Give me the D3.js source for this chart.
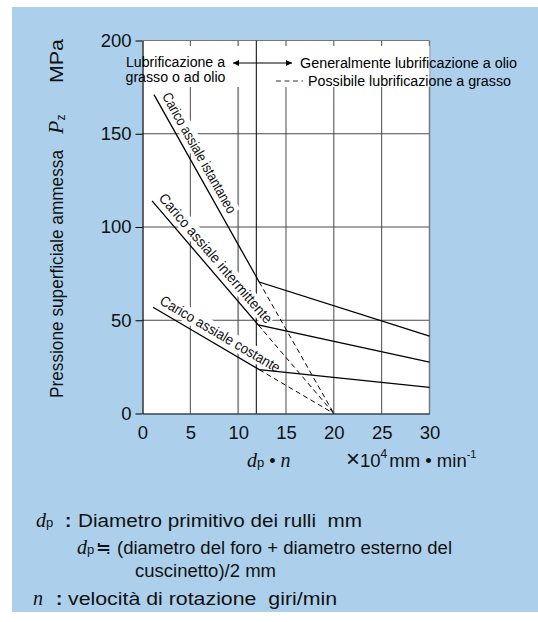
<!DOCTYPE html>
<html><head><meta charset="utf-8">
<script src="https://cdn.jsdelivr.net/npm/d3@7"></script>
<style>body{margin:0;background:#fff}svg{display:block}text{white-space:pre}</style>
</head><body><svg id="c" width="538" height="622"></svg>
<script>
// ---- data ----
const xTicks = [0, 5, 10, 15, 20, 25, 30];
const yTicks = [0, 50, 100, 150, 200];
const gridXValues = [5, 10, 15, 20, 25];
const gridYValues = [50, 100, 150];
const boundaryX = [12];
const seriesNames = ["Carico assiale istantaneo", "Carico assiale intermittente", "Carico assiale costante"];
const istantaneoX = [1.2, 12.2, 30];
const istantaneo = [171, 70.5, 41.5];
const intermittenteX = [1.0, 12.1, 30];
const intermittente = [114, 47.5, 27.5];
const costanteX = [1.1, 12.2, 30];
const costante = [57, 23.5, 14];
const dashedEnd = [20, 0];
const headerLeft = ["Lubrificazione a", "grasso o ad olio"];
const headerRight = ["Generalmente lubrificazione a olio", "Possibile lubrificazione a grasso"];

// ---- drawing ----
const svg = d3.select("#c");
const SANS = "'Liberation Sans', Arial, Helvetica, sans-serif";
const SERIF = "'Liberation Serif', 'DejaVu Serif', serif";
svg.attr("font-family", SANS);

const x = d3.scaleLinear().domain([0, 30]).range([142.5, 429.5]);
const y = d3.scaleLinear().domain([0, 200]).range([413.5, 40.5]);

// panel background
svg.append("rect").attr("x", 12).attr("y", 7).attr("width", 526).attr("height", 605).attr("fill", "#acd0eb");
svg.append("rect").attr("x", x(0)).attr("y", y(200)).attr("width", x(30) - x(0)).attr("height", y(0) - y(200)).attr("fill", "#fff");

const defs = svg.append("defs");
defs.append("marker").attr("id", "ah").attr("viewBox", "0 0 10 10").attr("refX", 10).attr("refY", 5)
  .attr("markerWidth", 8).attr("markerHeight", 6).attr("markerUnits", "userSpaceOnUse")
  .attr("orient", "auto-start-reverse")
  .append("path").attr("d", "M0,0L10,5L0,10Z").attr("fill", "#000");

// gridlines
const g = svg.append("g");
g.selectAll(".gx").data(gridXValues).join("line")
  .attr("x1", d => x(d)).attr("x2", d => x(d)).attr("y1", y(200)).attr("y2", y(0))
  .attr("stroke", d => d === 10 ? "#8c8c8c" : "#4a4a4a").attr("stroke-width", d => d === 10 ? 1.8 : 1);
g.selectAll(".gy").data(gridYValues).join("line")
  .attr("x1", x(0)).attr("x2", x(30)).attr("y1", d => y(d)).attr("y2", d => y(d))
  .attr("stroke", "#4a4a4a").attr("stroke-width", 1);
// top and right frame
g.append("line").attr("x1", x(0)).attr("x2", x(30)).attr("y1", y(200)).attr("y2", y(200)).attr("stroke", "#777");
g.append("line").attr("x1", x(30)).attr("x2", x(30)).attr("y1", y(200)).attr("y2", y(0)).attr("stroke", "#777").attr("stroke-width", 1.5);

// white mask behind header texts
svg.append("rect").attr("x", x(0)).attr("y", 46).attr("width", x(30) - x(0)).attr("height", 41).attr("fill", "#fff");

// boundary line at 12
svg.selectAll(".bx").data(boundaryX).join("line")
  .attr("x1", d => x(d) - 1).attr("x2", d => x(d) - 1).attr("y1", y(200)).attr("y2", y(0))
  .attr("stroke", "#000").attr("stroke-width", 1);

// axes
const ax = svg.append("g").attr("transform", `translate(0,${y(0)})`)
  .call(d3.axisBottom(x).tickValues(xTicks).tickSizeInner(0).tickSizeOuter(0).tickPadding(12));
const ay = svg.append("g").attr("transform", `translate(${x(0)},0)`)
  .call(d3.axisLeft(y).tickValues(yTicks).tickSizeInner(7).tickSizeOuter(0).tickPadding(4));
[ax, ay].forEach(a => {
  a.selectAll("text").attr("font-size", 18.5).attr("font-family", SANS).attr("fill", "#111");
  a.select(".domain").attr("stroke", "#000").attr("stroke-width", 1.2);
  a.selectAll(".tick line").attr("stroke", "#000");
});

// series
const series = [
  {name: seriesNames[0], xs: istantaneoX, ys: istantaneo, start: 5, len: 136},
  {name: seriesNames[1], xs: intermittenteX, ys: intermittente, start: 2, len: 166},
  {name: seriesNames[2], xs: costanteX, ys: costante, start: 3, len: 137}
];

// labels (with white backgrounds)
series.forEach(s => {
  const x0 = x(s.xs[0]), y0 = y(s.ys[0]), x1 = x(s.xs[1]), y1 = y(s.ys[1]);
  const ang = Math.atan2(y1 - y0, x1 - x0);
  const px = x0 + Math.cos(ang) * s.start, py = y0 + Math.sin(ang) * s.start;
  const lg = svg.append("g").attr("transform", `translate(${px},${py}) rotate(${ang * 180 / Math.PI})`);
  lg.append("rect").attr("x", -1).attr("y", -19).attr("width", s.len + 2).attr("height", 16).attr("fill", "#fff");
  lg.append("text").attr("x", 0).attr("y", -6).attr("font-size", 14.5)
    .attr("textLength", s.len).attr("lengthAdjust", "spacingAndGlyphs").attr("fill", "#111").text(s.name);
});

const line = d3.line().x(d => x(d[0])).y(d => y(d[1]));
series.forEach(s => {
  const pts = s.xs.map((v, i) => [v, s.ys[i]]);
  svg.append("path").attr("d", line(pts)).attr("fill", "none").attr("stroke", "#000").attr("stroke-width", 1.3);
  svg.append("path").attr("d", line([pts[1], dashedEnd])).attr("fill", "none").attr("stroke", "#000")
    .attr("stroke-width", 1).attr("stroke-dasharray", "5,3.5");
});

// header texts
svg.append("text").attr("x", 175.5).attr("y", 67).attr("text-anchor", "middle").attr("font-size", 14)
  .attr("textLength", 99).attr("lengthAdjust", "spacingAndGlyphs").text(headerLeft[0]);
svg.append("text").attr("x", 175.5).attr("y", 82).attr("text-anchor", "middle").attr("font-size", 14)
  .attr("textLength", 100).attr("lengthAdjust", "spacingAndGlyphs").text(headerLeft[1]);
svg.append("line").attr("x1", 233).attr("x2", 292).attr("y1", 63).attr("y2", 63)
  .attr("stroke", "#000").attr("stroke-width", 1.2)
  .attr("marker-start", "url(#ah)").attr("marker-end", "url(#ah)");
svg.append("text").attr("x", 300).attr("y", 67.5).attr("font-size", 14)
  .attr("textLength", 217).attr("lengthAdjust", "spacingAndGlyphs").text(headerRight[0]);
svg.append("line").attr("x1", 276).attr("x2", 303).attr("y1", 81).attr("y2", 81)
  .attr("stroke", "#333").attr("stroke-width", 1.2).attr("stroke-dasharray", "5,3.5");
svg.append("text").attr("x", 308).attr("y", 85.5).attr("font-size", 14)
  .attr("textLength", 203).attr("lengthAdjust", "spacingAndGlyphs").text(headerRight[1]);

// y-axis title (rotated)
const yt = svg.append("g").attr("transform", "translate(63,0) rotate(-90)");
yt.append("text").attr("x", -398).attr("y", 0).attr("font-size", 19)
  .attr("textLength", 248).attr("lengthAdjust", "spacingAndGlyphs").attr("fill", "#111").text("Pressione superficiale ammessa");
const pz = yt.append("text").attr("x", -134).attr("y", 0).attr("fill", "#111");
pz.append("tspan").attr("font-family", SERIF).attr("font-style", "italic").attr("font-size", 22).text("P");
pz.append("tspan").attr("font-size", 12).attr("dy", 2).text("z");
yt.append("text").attr("x", -83).attr("y", 0).attr("font-size", 19)
  .attr("textLength", 44).attr("lengthAdjust", "spacingAndGlyphs").attr("fill", "#111").text("MPa");

// x-axis title
const xt1 = svg.append("text").attr("x", 247).attr("y", 467).attr("fill", "#111");
xt1.append("tspan").attr("font-family", SERIF).attr("font-style", "italic").attr("font-size", 20).text("d");
xt1.append("tspan").attr("font-size", 13).text("p");
xt1.append("tspan").attr("font-size", 18).text(" • ");
xt1.append("tspan").attr("font-family", SERIF).attr("font-style", "italic").attr("font-size", 20).text("n");
const xt2 = svg.append("text").attr("x", 346).attr("y", 467).attr("fill", "#111").attr("font-size", 18.5);
xt2.append("tspan").attr("font-size", 24).attr("font-weight", 300).text("×");
xt2.append("tspan").text("10");
xt2.append("tspan").attr("font-size", 12).attr("dy", -9).text("4");
xt2.append("tspan").attr("dy", 9).attr("dx", 2).text("mm • min");
xt2.append("tspan").attr("font-size", 11).attr("dy", -9).text("-1");

// notes
// line 1
let t = svg.append("text").attr("x", 36).attr("y", 527).attr("fill", "#111");
t.append("tspan").attr("font-family", SERIF).attr("font-style", "italic").attr("font-size", 20).text("d");
t.append("tspan").attr("font-size", 13).text("p");
svg.append("text").attr("x", 65).attr("y", 527).attr("font-size", 19).attr("font-weight", "bold").attr("fill", "#111").text(":");
svg.append("text").attr("x", 78).attr("y", 527).attr("font-size", 17.5).attr("fill", "#111")
  .attr("textLength", 284).attr("lengthAdjust", "spacingAndGlyphs").text("Diametro primitivo dei rulli  mm");
// line 2
t = svg.append("text").attr("x", 77).attr("y", 554).attr("fill", "#111");
t.append("tspan").attr("font-family", SERIF).attr("font-style", "italic").attr("font-size", 20).text("d");
t.append("tspan").attr("font-size", 13).text("p");
svg.append("text").attr("x", 96).attr("y", 554).attr("font-size", 18).attr("fill", "#111").text("≒");
svg.append("text").attr("x", 117).attr("y", 554).attr("font-size", 17.5).attr("fill", "#111")
  .attr("textLength", 335).attr("lengthAdjust", "spacingAndGlyphs").text("(diametro del foro + diametro esterno del");
// line 3
svg.append("text").attr("x", 135).attr("y", 577).attr("font-size", 17.5).attr("fill", "#111")
  .attr("textLength", 141).attr("lengthAdjust", "spacingAndGlyphs").text("cuscinetto)/2 mm");
// line 4
svg.append("text").attr("x", 33).attr("y", 605).attr("font-family", SERIF).attr("font-style", "italic")
  .attr("font-size", 20).attr("fill", "#111").text("n");
svg.append("text").attr("x", 56).attr("y", 605).attr("font-size", 19).attr("font-weight", "bold").attr("fill", "#111").text(":");
svg.append("text").attr("x", 68).attr("y", 605).attr("font-size", 17.5).attr("fill", "#111")
  .attr("textLength", 269).attr("lengthAdjust", "spacingAndGlyphs").text("velocità di rotazione  giri/min");
</script></body></html>
